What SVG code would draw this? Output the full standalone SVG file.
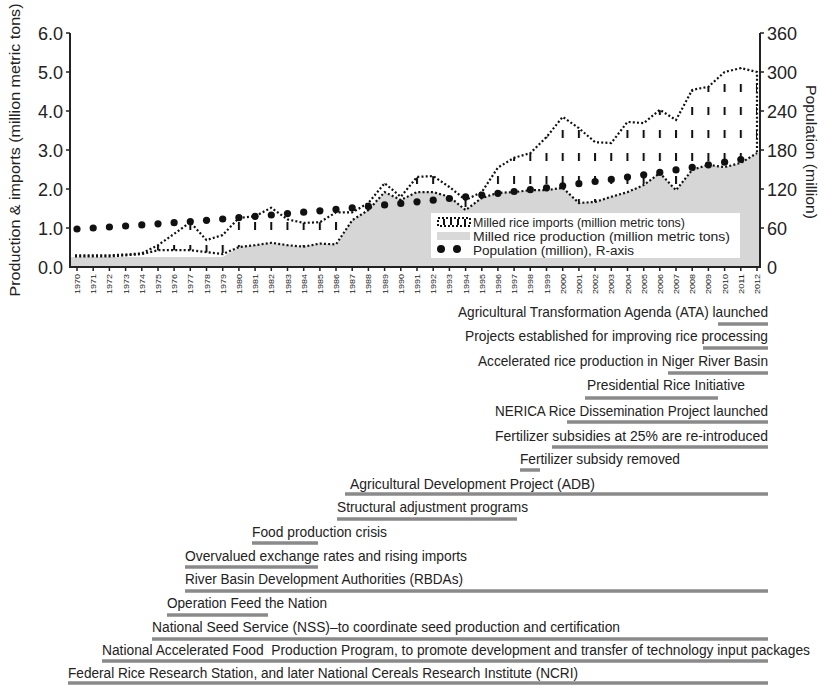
<svg xmlns="http://www.w3.org/2000/svg" width="823" height="686" viewBox="0 0 823 686">
<style>
text{font-family:"Liberation Sans Narrow","Liberation Sans",Arial,sans-serif;fill:#222}
.ax{font-size:18px}
.ttl{font-size:15px}
.yr{font-size:8px}
.lg{font-size:12.5px}
.tl{font-size:14px}
.bar{stroke:#8a8a8a;stroke-width:3.5}
.dot{fill:none;stroke:#111;stroke-width:2.2;stroke-dasharray:2 2.2}
.axis{stroke:#222;fill:none}
</style>
<defs>
<pattern id="hatch" patternUnits="userSpaceOnUse" x="76" y="15" width="16.19" height="23">
<rect x="0" y="0" width="2" height="8" fill="#111"/>
</pattern>
</defs>
<rect width="823" height="686" fill="#fff"/>

<g id="chart">
<polygon id="production" fill="#d6d6d6" points="70,267 70,257 77,257 93.2,257 109.4,257 125.6,257 141.8,257 158,257 174.1,257 190.3,257 206.5,257 222.7,257 238.9,247.1 255.1,245.2 271.3,242.8 287.5,245.2 303.7,246.7 319.9,243.6 336,244.4 352.2,220.2 368.4,210.1 384.6,192.1 400.8,199.9 417,192.1 433.2,192.1 449.4,196.8 465.6,210.1 481.8,198 497.9,192.9 514.1,192.1 530.3,190.2 546.5,190.2 562.7,187.8 578.9,203 595.1,201.9 611.3,196.8 627.5,192.1 643.7,185.1 659.8,173 676,190.2 692.2,169.9 708.4,164.8 724.6,167.2 740.8,162.9 757,153.1 760,152 760,267"/>
<polygon id="imports" fill="url(#hatch)" points="77,255.3 93.2,255.3 109.4,255.3 125.6,254.5 141.8,253.4 158,245.2 174.1,233.9 190.3,222.2 206.5,240.1 222.7,235 238.9,217.9 255.1,216.3 271.3,207.7 287.5,219.4 303.7,222.9 319.9,222.2 336,212.4 352.2,212.4 368.4,203 384.6,183.2 400.8,196.8 417,176.9 433.2,176.1 449.4,187 465.6,199.9 481.8,192.1 497.9,167.6 514.1,157.8 530.3,153.1 546.5,137.1 562.7,116.9 578.9,128.2 595.1,142.2 611.3,143 627.5,121.9 643.7,123.1 659.8,109.8 676,120 692.2,89.9 708.4,86.8 724.6,72 740.8,68.1 757,72 757,153.1 740.8,162.9 724.6,167.2 708.4,164.8 692.2,169.9 676,190.2 659.8,173 643.7,185.1 627.5,192.1 611.3,196.8 595.1,201.9 578.9,203 562.7,187.8 546.5,190.2 530.3,190.2 514.1,192.1 497.9,192.9 481.8,198 465.6,210.1 449.4,196.8 433.2,192.1 417,192.1 400.8,199.9 384.6,192.1 368.4,210.1 352.2,220.2 336,244.4 319.9,243.6 303.7,246.7 287.5,245.2 271.3,242.8 255.1,245.2 238.9,247.1 222.7,254.1 206.5,252.2 190.3,250.2 174.1,250.2 158,250.2 141.8,254.1 125.6,255.3 109.4,256.5 93.2,256.5 77,256.5"/>
<polyline class="dot" points="75,255.3 77,255.3 93.2,255.3 109.4,255.3 125.6,254.5 141.8,253.4 158,245.2 174.1,233.9 190.3,222.2 206.5,240.1 222.7,235 238.9,217.9 255.1,216.3 271.3,207.7 287.5,219.4 303.7,222.9 319.9,222.2 336,212.4 352.2,212.4 368.4,203 384.6,183.2 400.8,196.8 417,176.9 433.2,176.1 449.4,187 465.6,199.9 481.8,192.1 497.9,167.6 514.1,157.8 530.3,153.1 546.5,137.1 562.7,116.9 578.9,128.2 595.1,142.2 611.3,143 627.5,121.9 643.7,123.1 659.8,109.8 676,120 692.2,89.9 708.4,86.8 724.6,72 740.8,68.1 757,72 757,153.1"/>
<polyline class="dot" points="75,256.5 77,256.5 93.2,256.5 109.4,256.5 125.6,255.3 141.8,254.1 158,250.2 174.1,250.2 190.3,250.2 206.5,252.2 222.7,254.1 238.9,247.1 255.1,245.2 271.3,242.8 287.5,245.2 303.7,246.7 319.9,243.6 336,244.4 352.2,220.2 368.4,210.1 384.6,192.1 400.8,199.9 417,192.1 433.2,192.1 449.4,196.8 465.6,210.1 481.8,198 497.9,192.9 514.1,192.1 530.3,190.2 546.5,190.2 562.7,187.8 578.9,203 595.1,201.9 611.3,196.8 627.5,192.1 643.7,185.1 659.8,173 676,190.2 692.2,169.9 708.4,164.8 724.6,167.2 740.8,162.9 757,153.1"/>
<g id="population" fill="#111">
<circle cx="77" cy="229" r="3.6"/><circle cx="93.2" cy="228" r="3.6"/><circle cx="109.4" cy="227" r="3.6"/><circle cx="125.6" cy="226" r="3.6"/><circle cx="141.8" cy="224.9" r="3.6"/><circle cx="158" cy="223.8" r="3.6"/><circle cx="174.1" cy="222.7" r="3.6"/><circle cx="190.3" cy="221.5" r="3.6"/><circle cx="206.5" cy="220.3" r="3.6"/><circle cx="222.7" cy="219" r="3.6"/><circle cx="238.9" cy="217.6" r="3.6"/><circle cx="255.1" cy="216.3" r="3.6"/><circle cx="271.3" cy="215" r="3.6"/><circle cx="287.5" cy="213.6" r="3.6"/><circle cx="303.7" cy="212.2" r="3.6"/><circle cx="319.9" cy="210.8" r="3.6"/><circle cx="336" cy="209.4" r="3.6"/><circle cx="352.2" cy="207.9" r="3.6"/><circle cx="368.4" cy="206.4" r="3.6"/><circle cx="384.6" cy="204.9" r="3.6"/><circle cx="400.8" cy="203.4" r="3.6"/><circle cx="417" cy="201.8" r="3.6"/><circle cx="433.2" cy="200.2" r="3.6"/><circle cx="449.4" cy="198.5" r="3.6"/><circle cx="465.6" cy="196.8" r="3.6"/><circle cx="481.8" cy="195.1" r="3.6"/><circle cx="497.9" cy="193.3" r="3.6"/><circle cx="514.1" cy="191.5" r="3.6"/><circle cx="530.3" cy="189.7" r="3.6"/><circle cx="546.5" cy="187.8" r="3.6"/><circle cx="562.7" cy="185.8" r="3.6"/><circle cx="578.9" cy="183.7" r="3.6"/><circle cx="595.1" cy="181.5" r="3.6"/><circle cx="611.3" cy="179.4" r="3.6"/><circle cx="627.5" cy="177.1" r="3.6"/><circle cx="643.7" cy="174.8" r="3.6"/><circle cx="659.8" cy="172.4" r="3.6"/><circle cx="676" cy="169.9" r="3.6"/><circle cx="692.2" cy="167.4" r="3.6"/><circle cx="708.4" cy="164.8" r="3.6"/><circle cx="724.6" cy="162.2" r="3.6"/><circle cx="740.8" cy="159.5" r="3.6"/>
</g>
<g id="legend">
<rect x="431" y="213" width="309" height="45" fill="#fff"/>
<rect x="438" y="218" width="32" height="8" fill="none" stroke="#111" stroke-width="2" stroke-dasharray="2 2"/>
<g fill="#111"><rect x="443" y="219" width="2" height="6"/><rect x="450" y="219" width="2" height="6"/><rect x="457" y="219" width="2" height="6"/><rect x="464" y="219" width="2" height="6"/></g>
<rect x="437" y="232" width="33" height="8" fill="#d9d9d9"/>
<circle cx="441" cy="249" r="4" fill="#111"/><circle cx="457" cy="249" r="4" fill="#111"/>
<text class="lg" x="473" y="226.5" textLength="212" lengthAdjust="spacingAndGlyphs">Milled rice imports (million metric tons)</text>
<text class="lg" x="473" y="240.5" textLength="257" lengthAdjust="spacingAndGlyphs">Milled rice production (million metric tons)</text>
<text class="lg" x="473" y="254.5" textLength="161" lengthAdjust="spacingAndGlyphs">Population (million), R-axis</text>
</g>
<g id="axes">
<line class="axis" x1="70" y1="33" x2="70" y2="268" stroke-width="2"/>
<line class="axis" x1="760" y1="33" x2="760" y2="268" stroke-width="2"/>
<line class="axis" x1="69" y1="267" x2="761" y2="267" stroke-width="2.2"/>
<path class="axis" stroke-width="1.5" d="M66,33H70M66,72H70M66,111H70M66,150H70M66,189H70M66,228H70M760,33H764M760,72H764M760,111H764M760,150H764M760,189H764M760,228H764"/>
<path class="axis" stroke-width="1.5" d="M77,267V271M93.2,267V271M109.4,267V271M125.6,267V271M141.8,267V271M158,267V271M174.1,267V271M190.3,267V271M206.5,267V271M222.7,267V271M238.9,267V271M255.1,267V271M271.3,267V271M287.5,267V271M303.7,267V271M319.9,267V271M336,267V271M352.2,267V271M368.4,267V271M384.6,267V271M400.8,267V271M417,267V271M433.2,267V271M449.4,267V271M465.6,267V271M481.8,267V271M497.9,267V271M514.1,267V271M530.3,267V271M546.5,267V271M562.7,267V271M578.9,267V271M595.1,267V271M611.3,267V271M627.5,267V271M643.7,267V271M659.8,267V271M676,267V271M692.2,267V271M708.4,267V271M724.6,267V271M740.8,267V271M757,267V271"/>
<g text-anchor="end">
<text class="ax" x="63" y="39.5">6.0</text><text class="ax" x="63" y="78.5">5.0</text><text class="ax" x="63" y="117.5">4.0</text><text class="ax" x="63" y="156.5">3.0</text><text class="ax" x="63" y="195.5">2.0</text><text class="ax" x="63" y="234.5">1.0</text><text class="ax" x="63" y="273.5">0.0</text>
</g>
<text class="ax" x="767" y="39.5">360</text><text class="ax" x="767" y="78.5">300</text><text class="ax" x="767" y="117.5">240</text><text class="ax" x="767" y="156.5">180</text><text class="ax" x="767" y="195.5">120</text><text class="ax" x="767" y="234.5">60</text><text class="ax" x="767" y="273.5">0</text>
<text class="ttl" transform="translate(20,150) rotate(-90)" text-anchor="middle" textLength="293" lengthAdjust="spacingAndGlyphs">Production &amp; imports (million metric tons)</text>
<text class="ttl" transform="translate(806,152) rotate(90)" text-anchor="middle" textLength="134" lengthAdjust="spacingAndGlyphs">Population (million)</text>
</g>
<g id="years" text-anchor="end">
<text class="yr" transform="translate(80,274) rotate(-90)" textLength="20" lengthAdjust="spacingAndGlyphs">1970</text>
<text class="yr" transform="translate(96.2,274) rotate(-90)" textLength="20" lengthAdjust="spacingAndGlyphs">1971</text>
<text class="yr" transform="translate(112.4,274) rotate(-90)" textLength="20" lengthAdjust="spacingAndGlyphs">1972</text>
<text class="yr" transform="translate(128.6,274) rotate(-90)" textLength="20" lengthAdjust="spacingAndGlyphs">1973</text>
<text class="yr" transform="translate(144.8,274) rotate(-90)" textLength="20" lengthAdjust="spacingAndGlyphs">1974</text>
<text class="yr" transform="translate(161,274) rotate(-90)" textLength="20" lengthAdjust="spacingAndGlyphs">1975</text>
<text class="yr" transform="translate(177.1,274) rotate(-90)" textLength="20" lengthAdjust="spacingAndGlyphs">1976</text>
<text class="yr" transform="translate(193.3,274) rotate(-90)" textLength="20" lengthAdjust="spacingAndGlyphs">1977</text>
<text class="yr" transform="translate(209.5,274) rotate(-90)" textLength="20" lengthAdjust="spacingAndGlyphs">1978</text>
<text class="yr" transform="translate(225.7,274) rotate(-90)" textLength="20" lengthAdjust="spacingAndGlyphs">1979</text>
<text class="yr" transform="translate(241.9,274) rotate(-90)" textLength="20" lengthAdjust="spacingAndGlyphs">1980</text>
<text class="yr" transform="translate(258.1,274) rotate(-90)" textLength="20" lengthAdjust="spacingAndGlyphs">1981</text>
<text class="yr" transform="translate(274.3,274) rotate(-90)" textLength="20" lengthAdjust="spacingAndGlyphs">1982</text>
<text class="yr" transform="translate(290.5,274) rotate(-90)" textLength="20" lengthAdjust="spacingAndGlyphs">1983</text>
<text class="yr" transform="translate(306.7,274) rotate(-90)" textLength="20" lengthAdjust="spacingAndGlyphs">1984</text>
<text class="yr" transform="translate(322.9,274) rotate(-90)" textLength="20" lengthAdjust="spacingAndGlyphs">1985</text>
<text class="yr" transform="translate(339,274) rotate(-90)" textLength="20" lengthAdjust="spacingAndGlyphs">1986</text>
<text class="yr" transform="translate(355.2,274) rotate(-90)" textLength="20" lengthAdjust="spacingAndGlyphs">1987</text>
<text class="yr" transform="translate(371.4,274) rotate(-90)" textLength="20" lengthAdjust="spacingAndGlyphs">1988</text>
<text class="yr" transform="translate(387.6,274) rotate(-90)" textLength="20" lengthAdjust="spacingAndGlyphs">1989</text>
<text class="yr" transform="translate(403.8,274) rotate(-90)" textLength="20" lengthAdjust="spacingAndGlyphs">1990</text>
<text class="yr" transform="translate(420,274) rotate(-90)" textLength="20" lengthAdjust="spacingAndGlyphs">1991</text>
<text class="yr" transform="translate(436.2,274) rotate(-90)" textLength="20" lengthAdjust="spacingAndGlyphs">1992</text>
<text class="yr" transform="translate(452.4,274) rotate(-90)" textLength="20" lengthAdjust="spacingAndGlyphs">1993</text>
<text class="yr" transform="translate(468.6,274) rotate(-90)" textLength="20" lengthAdjust="spacingAndGlyphs">1994</text>
<text class="yr" transform="translate(484.8,274) rotate(-90)" textLength="20" lengthAdjust="spacingAndGlyphs">1995</text>
<text class="yr" transform="translate(500.9,274) rotate(-90)" textLength="20" lengthAdjust="spacingAndGlyphs">1996</text>
<text class="yr" transform="translate(517.1,274) rotate(-90)" textLength="20" lengthAdjust="spacingAndGlyphs">1997</text>
<text class="yr" transform="translate(533.3,274) rotate(-90)" textLength="20" lengthAdjust="spacingAndGlyphs">1998</text>
<text class="yr" transform="translate(549.5,274) rotate(-90)" textLength="20" lengthAdjust="spacingAndGlyphs">1999</text>
<text class="yr" transform="translate(565.7,274) rotate(-90)" textLength="20" lengthAdjust="spacingAndGlyphs">2000</text>
<text class="yr" transform="translate(581.9,274) rotate(-90)" textLength="20" lengthAdjust="spacingAndGlyphs">2001</text>
<text class="yr" transform="translate(598.1,274) rotate(-90)" textLength="20" lengthAdjust="spacingAndGlyphs">2002</text>
<text class="yr" transform="translate(614.3,274) rotate(-90)" textLength="20" lengthAdjust="spacingAndGlyphs">2003</text>
<text class="yr" transform="translate(630.5,274) rotate(-90)" textLength="20" lengthAdjust="spacingAndGlyphs">2004</text>
<text class="yr" transform="translate(646.7,274) rotate(-90)" textLength="20" lengthAdjust="spacingAndGlyphs">2005</text>
<text class="yr" transform="translate(662.8,274) rotate(-90)" textLength="20" lengthAdjust="spacingAndGlyphs">2006</text>
<text class="yr" transform="translate(679,274) rotate(-90)" textLength="20" lengthAdjust="spacingAndGlyphs">2007</text>
<text class="yr" transform="translate(695.2,274) rotate(-90)" textLength="20" lengthAdjust="spacingAndGlyphs">2008</text>
<text class="yr" transform="translate(711.4,274) rotate(-90)" textLength="20" lengthAdjust="spacingAndGlyphs">2009</text>
<text class="yr" transform="translate(727.6,274) rotate(-90)" textLength="20" lengthAdjust="spacingAndGlyphs">2010</text>
<text class="yr" transform="translate(743.8,274) rotate(-90)" textLength="20" lengthAdjust="spacingAndGlyphs">2011</text>
<text class="yr" transform="translate(760,274) rotate(-90)" textLength="20" lengthAdjust="spacingAndGlyphs">2012</text>
</g>
</g>

<g id="timeline">
<g id="ev-ata"><text class="tl" x="458" y="317" textLength="310" lengthAdjust="spacingAndGlyphs">Agricultural Transformation Agenda (ATA) launched</text><line class="bar" x1="718" y1="324" x2="768" y2="324"/></g>
<g id="ev-processing"><text class="tl" x="465" y="341" textLength="303" lengthAdjust="spacingAndGlyphs">Projects established for improving rice processing</text><line class="bar" x1="703" y1="348" x2="768" y2="348"/></g>
<g id="ev-niger"><text class="tl" x="478" y="366" textLength="290" lengthAdjust="spacingAndGlyphs">Accelerated rice production in Niger River Basin</text><line class="bar" x1="668" y1="373" x2="768" y2="373"/></g>
<g id="ev-presidential"><text class="tl" x="587" y="390" textLength="158" lengthAdjust="spacingAndGlyphs">Presidential Rice Initiative</text><line class="bar" x1="585" y1="398" x2="718" y2="398"/></g>
<g id="ev-nerica"><text class="tl" x="495" y="416" textLength="273" lengthAdjust="spacingAndGlyphs">NERICA Rice Dissemination Project launched</text><line class="bar" x1="567" y1="422" x2="768" y2="422"/></g>
<g id="ev-fert25"><text class="tl" x="495" y="441" textLength="273" lengthAdjust="spacingAndGlyphs">Fertilizer subsidies at 25% are re-introduced</text><line class="bar" x1="552" y1="447" x2="768" y2="447"/></g>
<g id="ev-fertremoved"><text class="tl" x="520" y="464" textLength="160" lengthAdjust="spacingAndGlyphs">Fertilizer subsidy removed</text><line class="bar" x1="520" y1="470" x2="540" y2="470"/></g>
<g id="ev-adp"><text class="tl" x="350" y="489" textLength="245" lengthAdjust="spacingAndGlyphs">Agricultural Development Project (ADB)</text><line class="bar" x1="345" y1="494" x2="768" y2="494"/></g>
<g id="ev-sap"><text class="tl" x="337" y="512" textLength="191" lengthAdjust="spacingAndGlyphs">Structural adjustment programs</text><line class="bar" x1="337" y1="519" x2="517" y2="519"/></g>
<g id="ev-crisis"><text class="tl" x="252" y="537" textLength="135" lengthAdjust="spacingAndGlyphs">Food production crisis</text><line class="bar" x1="252" y1="543" x2="318" y2="543"/></g>
<g id="ev-exchange"><text class="tl" x="185" y="561" textLength="282" lengthAdjust="spacingAndGlyphs">Overvalued exchange rates and rising imports</text><line class="bar" x1="185" y1="567" x2="318" y2="567"/></g>
<g id="ev-rbda"><text class="tl" x="185" y="584" textLength="278" lengthAdjust="spacingAndGlyphs">River Basin Development Authorities (RBDAs)</text><line class="bar" x1="185" y1="591" x2="768" y2="591"/></g>
<g id="ev-ofn"><text class="tl" x="167" y="608" textLength="160" lengthAdjust="spacingAndGlyphs">Operation Feed the Nation</text><line class="bar" x1="167" y1="615" x2="268" y2="615"/></g>
<g id="ev-nss"><text class="tl" x="152" y="632" textLength="468" lengthAdjust="spacingAndGlyphs">National Seed Service (NSS)–to coordinate seed production and certification</text><line class="bar" x1="152" y1="639" x2="768" y2="639"/></g>
<g id="ev-nafpp"><text class="tl" x="102" y="655" textLength="708" lengthAdjust="spacingAndGlyphs" xml:space="preserve">National Accelerated Food  Production Program, to promote development and transfer of technology input packages</text><line class="bar" x1="102" y1="661" x2="768" y2="661"/></g>
<g id="ev-ncri"><text class="tl" x="68" y="678" textLength="510" lengthAdjust="spacingAndGlyphs">Federal Rice Research Station, and later National Cereals Research Institute (NCRI)</text><line class="bar" x1="68" y1="683" x2="768" y2="683"/></g>
</g>
</svg>
